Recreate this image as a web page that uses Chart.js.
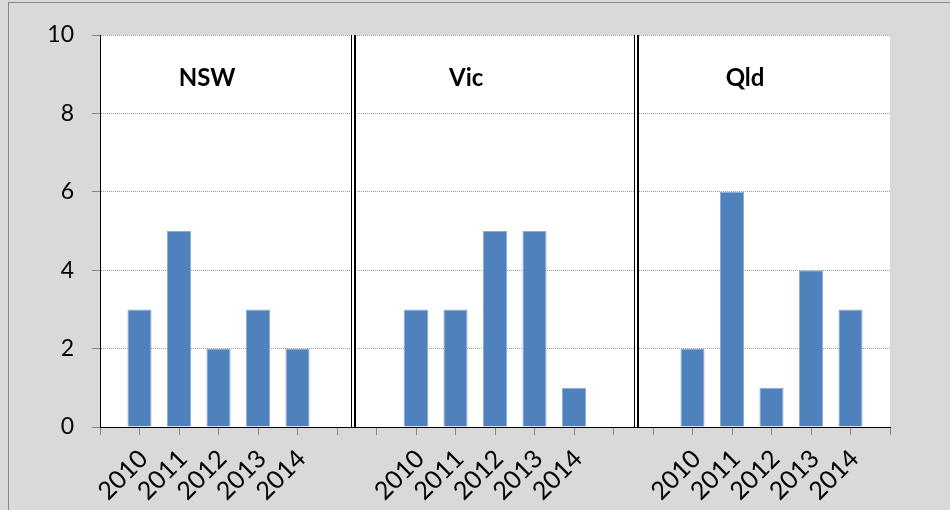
<!DOCTYPE html>
<html>
<head>
<meta charset="utf-8">
<script src="https://cdn.jsdelivr.net/npm/chart.js@4"></script>
<style>
  html, body { margin: 0; padding: 0; background: #d9d9d9; overflow: hidden; }
  #wrap { position: relative; width: 950px; height: 510px; }
  #frame { position: absolute; left: 8px; top: 2px; width: 960px; height: 520px; border: 1px solid #868686; }
  canvas { position: absolute; left: 0; top: 0; }
</style>
</head>
<body>
<div id="wrap">
  <div id="frame"></div>
  <canvas id="chart" width="950" height="510"></canvas>
</div>
<script>
const years = ['2010', '2011', '2012', '2013', '2014'];
const states = ['NSW', 'Vic', 'Qld'];
const nsw = [3, 5, 2, 3, 2];
const vic = [3, 3, 5, 5, 1];
const qld = [2, 6, 1, 4, 3];
const yTicks = [0, 2, 4, 6, 8, 10];

// blank slots around each panel, like the spreadsheet layout
const labels = ['', ...years, '', '', ...years, '', '', ...years, ''];
const values = [null, ...nsw, null, null, ...vic, null, null, ...qld, null];

// where the double dividers and panel names sit (category units)
const dividers = [6.43, 13.6];
const titleX = [2.71, 9.27, 16.33];
const titleY = 8.9;

const FONT = 'Lato, "Open Sans", sans-serif';

const panelPlugin = {
  id: 'panels',
  beforeDraw(chart) {
    const { ctx, chartArea: a } = chart;
    ctx.save();
    ctx.fillStyle = '#ffffff';
    ctx.fillRect(a.left, a.top, a.right - a.left, a.bottom - a.top);
    ctx.restore();
  },
  afterDatasetsDraw(chart) {
    const { ctx, chartArea: a, scales: { x, y } } = chart;
    const h = a.bottom - a.top;
    ctx.save();
    dividers.forEach(d => {
      const px = Math.round(x.getPixelForValue(d));
      ctx.fillStyle = '#ffffff';
      ctx.fillRect(px - 3, a.top, 5, h);
      ctx.fillStyle = '#000000';
      ctx.fillRect(px - 3, a.top, 1, h);
      ctx.fillRect(px, a.top, 2, h);
    });
    ctx.fillStyle = '#000000';
    ctx.font = 'bold 24px ' + FONT;
    ctx.textAlign = 'center';
    ctx.textBaseline = 'middle';
    states.forEach((s, i) => {
      ctx.fillText(s, x.getPixelForValue(titleX[i]), y.getPixelForValue(titleY));
    });
    ctx.restore();
  }
};

new Chart(document.getElementById('chart'), {
  type: 'bar',
  data: {
    labels: labels,
    datasets: [{
      data: values,
      backgroundColor: '#4f81bd',
      borderColor: '#8eaad6',
      borderWidth: 1,
      categoryPercentage: 1,
      barPercentage: 0.61
    }]
  },
  options: {
    responsive: false,
    animation: false,
    layout: { padding: { left: 0, right: 60, top: 35, bottom: 0 } },
    plugins: {
      legend: { display: false },
      tooltip: { enabled: false }
    },
    scales: {
      x: {
        offset: false,
        afterFit(s) { s.height = 83; },
        grid: { offset: false, drawOnChartArea: false, drawTicks: true, tickLength: 8, color: '#868686' },
        border: { color: '#000000', width: 1 },
        ticks: {
          autoSkip: false,
          maxRotation: 45,
          minRotation: 45,
          color: '#000000',
          font: { family: FONT, size: 25 },
          padding: 9,
          labelOffset: 4
        }
      },
      y: {
        min: 0,
        max: 10,
        afterFit(s) { s.width = 100; },
        afterBuildTicks(s) { s.ticks = yTicks.map(v => ({ value: v })); },
        grid: { color: '#9a9a9a', tickLength: 8, tickColor: '#868686', tickBorderDash: [] },
        border: { color: '#000000', width: 1, dash: [1, 1] },
        ticks: {
          color: '#000000',
          font: { family: FONT, size: 23 },
          padding: 18
        }
      }
    }
  },
  plugins: [panelPlugin]
});
</script>
</body>
</html>
